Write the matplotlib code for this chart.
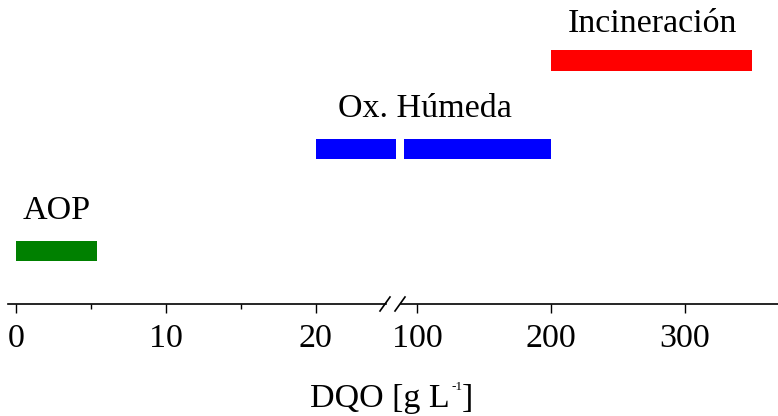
import numpy as np
import matplotlib
matplotlib.use("Agg")
import matplotlib.pyplot as plt
from matplotlib.ticker import FixedLocator

plt.rcParams['font.family'] = ['Liberation Serif', 'DejaVu Serif']

# ── Data ──────────────────────────────────────────────────────────────────────
processes   = ["AOP", "Ox. Húmeda", "Incineración"]
bar_colors  = ["#008000", "#0000ff", "#ff0000"]
levels      = [0.535, 1.555, 2.435]          # row centre (axis units)

# segments on the low part of the broken axis (0-25)
low_start   = [0.0, 20.0]
low_end     = [5.4, 25.4]
low_proc    = [0, 1]
# segments on the high part of the broken axis (90-370)
high_start  = [90.3, 200.0]
high_end    = [200.0, 350.0]
high_proc   = [1, 2]

low_ticks   = [0, 10, 20]
low_minor   = [5, 15]
high_ticks  = [100, 200, 300]

BAR_H   = 0.2
FS      = 24.5

fig = plt.figure(figsize=(7.78, 4.16), dpi=100)
bottom = (416 - 304) / 416
height = 304 / 416
ax1 = fig.add_axes([8 / 778, bottom, 378 / 778, height])
ax2 = fig.add_axes([401 / 778, bottom, 377 / 778, height])

ax1.set_xlim(-0.568, 24.70)
ax2.set_xlim(88.06, 369.4)
for ax in (ax1, ax2):
    ax.set_ylim(0, 3.04)
    ax.set_facecolor('none')
    ax.yaxis.set_visible(False)
    for s in ('left', 'right', 'top'):
        ax.spines[s].set_visible(False)
    ax.spines['bottom'].set_linewidth(1.2)
    ax.tick_params(axis='x', which='major', direction='out', length=6.5,
                   width=1.0, labelsize=FS, pad=7.5)
    ax.tick_params(axis='x', which='minor', direction='out', length=3.5,
                   width=1.0)

ax1.xaxis.set_major_locator(FixedLocator(low_ticks))
ax1.xaxis.set_minor_locator(FixedLocator(low_minor))
ax2.xaxis.set_major_locator(FixedLocator(high_ticks))
ax2.xaxis.set_minor_locator(FixedLocator([]))

# bars
for s, e, p in zip(low_start, low_end, low_proc):
    ax1.barh(levels[p], e - s, left=s, height=BAR_H, color=bar_colors[p],
             clip_on=False)
for s, e, p in zip(high_start, high_end, high_proc):
    ax2.barh(levels[p], e - s, left=s, height=BAR_H, color=bar_colors[p],
             clip_on=False)

# labels above the bars
ax1.text(2.7, levels[0] + 0.315, processes[0], ha='center', va='baseline',
         fontsize=FS, clip_on=False)
ax2.text(106, levels[1] + 0.315, processes[1], ha='center', va='baseline',
         fontsize=FS, clip_on=False)
ax2.text(276, levels[2] + 0.285, processes[2], ha='center', va='baseline',
         fontsize=FS, clip_on=False)

# break marks
for xc in (385, 400):
    x0, x1 = (xc - 5) / 778, (xc + 5) / 778
    y0, y1 = (416 - 311) / 416, (416 - 297) / 416
    fig.add_artist(plt.Line2D([x0, x1], [y0, y1], color='black', lw=1.2,
                              transform=fig.transFigure))

# axis title, superscript drawn small as in the original
base = (416 - 407) / 416
fig.text(450 / 778, base, 'DQO [g L', ha='right', va='baseline', fontsize=FS)
fig.text(451 / 778, (416 - 390) / 416, '-1', ha='left', va='baseline',
         fontsize=9.5)
fig.text(462 / 778, base, ']', ha='left', va='baseline', fontsize=FS)

fig.savefig("out.png", dpi=100)
